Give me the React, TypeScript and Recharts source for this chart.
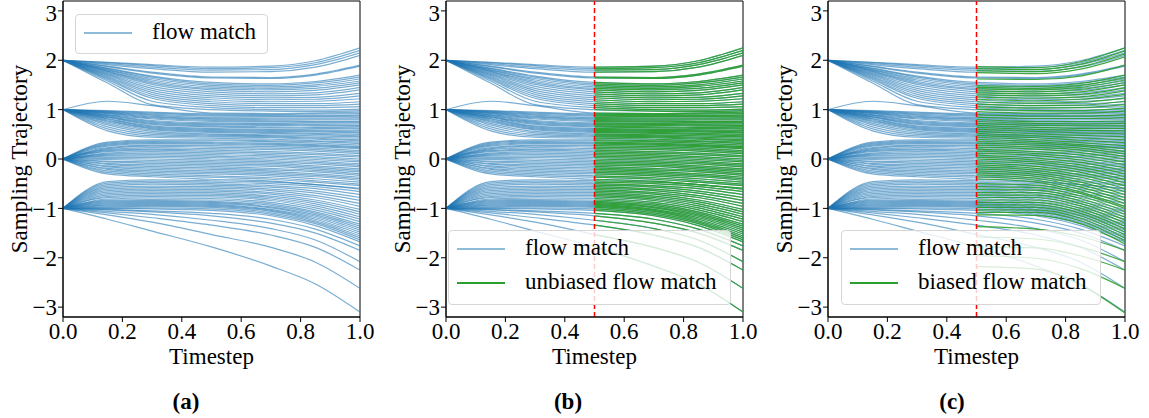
import React from 'react';
import { LineChart, Line, XAxis, YAxis, ReferenceLine, ReferenceArea, Legend } from 'recharts';

// timesteps where each trajectory is sampled; index 3 is t = 0.5 (the split)
const timesteps = [0, 0.15, 0.3, 0.5, 0.7, 0.85, 1.0];
const splitIndex = 3;

const xTicks = [0, 0.2, 0.4, 0.6, 0.8, 1.0];
const yTicks = [-3, -2, -1, 0, 1, 2, 3];

// flow match trajectories, one row per path, values at `timesteps`
const fromTwo = [
  [2, 1.96, 1.91, 1.86, 1.88, 1.99, 2.25],
  [2, 1.95, 1.89, 1.83, 1.85, 1.95, 2.2],
  [2, 1.93, 1.86, 1.8, 1.81, 1.91, 2.15],
  [2, 1.91, 1.83, 1.76, 1.77, 1.86, 2.1],
  [2, 1.88, 1.76, 1.66, 1.65, 1.72, 1.9],
  [2, 1.87, 1.74, 1.64, 1.63, 1.7, 1.88],
  [2, 1.84, 1.68, 1.55, 1.52, 1.57, 1.7],
  [2, 1.83, 1.66, 1.52, 1.49, 1.54, 1.66],
  [2, 1.81, 1.63, 1.49, 1.46, 1.5, 1.62],
  [2, 1.8, 1.6, 1.46, 1.43, 1.47, 1.58],
  [2, 1.78, 1.57, 1.43, 1.4, 1.43, 1.54],
  [2, 1.77, 1.54, 1.4, 1.36, 1.39, 1.5],
  [2, 1.75, 1.51, 1.36, 1.32, 1.34, 1.45],
  [2, 1.73, 1.47, 1.32, 1.28, 1.3, 1.4],
  [2, 1.71, 1.43, 1.28, 1.24, 1.25, 1.33],
  [2, 1.69, 1.39, 1.24, 1.2, 1.21, 1.28],
  [2, 1.67, 1.35, 1.2, 1.16, 1.17, 1.22],
  [2, 1.65, 1.31, 1.16, 1.12, 1.12, 1.16],
  [2, 1.63, 1.27, 1.12, 1.08, 1.08, 1.11],
  [2, 1.61, 1.23, 1.08, 1.04, 1.04, 1.06],
  [2, 1.58, 1.17, 1.04, 1.0, 0.99, 1.01],
  [2, 1.54, 1.1, 1.0, 0.97, 0.96, 0.98],
];

const fromOne = [
  [1, 1.17, 1.08, 0.93, 0.92, 0.93, 0.95],
  [1, 0.98, 0.95, 0.91, 0.9, 0.91, 0.92],
  [1, 0.97, 0.93, 0.89, 0.88, 0.88, 0.89],
  [1, 0.96, 0.91, 0.87, 0.86, 0.86, 0.87],
  [1, 0.95, 0.89, 0.84, 0.83, 0.83, 0.84],
  [1, 0.94, 0.87, 0.82, 0.81, 0.81, 0.81],
  [1, 0.93, 0.85, 0.8, 0.79, 0.79, 0.79],
  [1, 0.92, 0.83, 0.78, 0.77, 0.76, 0.76],
  [1, 0.9, 0.81, 0.76, 0.75, 0.74, 0.74],
  [1, 0.89, 0.78, 0.73, 0.72, 0.71, 0.71],
  [1, 0.88, 0.76, 0.71, 0.7, 0.69, 0.68],
  [1, 0.86, 0.74, 0.69, 0.68, 0.67, 0.66],
  [1, 0.85, 0.72, 0.67, 0.65, 0.64, 0.63],
  [1, 0.84, 0.7, 0.65, 0.63, 0.62, 0.61],
  [1, 0.82, 0.67, 0.62, 0.6, 0.59, 0.58],
  [1, 0.81, 0.65, 0.6, 0.58, 0.57, 0.55],
  [1, 0.79, 0.63, 0.58, 0.56, 0.55, 0.53],
  [1, 0.77, 0.61, 0.56, 0.54, 0.52, 0.5],
  [1, 0.75, 0.59, 0.54, 0.52, 0.5, 0.47],
  [1, 0.72, 0.56, 0.51, 0.49, 0.47, 0.45],
  [1, 0.69, 0.53, 0.49, 0.47, 0.44, 0.42],
  [1, 0.65, 0.5, 0.47, 0.45, 0.42, 0.39],
  [1, 0.61, 0.47, 0.45, 0.43, 0.4, 0.37],
  [1, 0.57, 0.44, 0.42, 0.4, 0.37, 0.34],
];

const fromZero = [
  [0, 0.34, 0.39, 0.39, 0.37, 0.35, 0.31],
  [0, 0.32, 0.37, 0.37, 0.35, 0.32, 0.28],
  [0, 0.3, 0.35, 0.34, 0.32, 0.29, 0.25],
  [0, 0.28, 0.33, 0.32, 0.3, 0.27, 0.23],
  [0, 0.26, 0.31, 0.3, 0.28, 0.25, 0.21],
  [0, 0.23, 0.28, 0.27, 0.25, 0.22, 0.17],
  [0, 0.21, 0.26, 0.24, 0.22, 0.19, 0.14],
  [0, 0.19, 0.23, 0.21, 0.19, 0.16, 0.11],
  [0, 0.17, 0.2, 0.18, 0.15, 0.12, 0.07],
  [0, 0.15, 0.18, 0.15, 0.12, 0.09, 0.04],
  [0, 0.12, 0.15, 0.12, 0.09, 0.05, 0.0],
  [0, 0.1, 0.12, 0.09, 0.06, 0.02, -0.03],
  [0, 0.08, 0.09, 0.06, 0.03, -0.01, -0.06],
  [0, 0.06, 0.06, 0.03, 0.0, -0.04, -0.1],
  [0, 0.03, 0.03, 0.0, -0.03, -0.07, -0.13],
  [0, 0.01, 0.0, -0.03, -0.06, -0.1, -0.16],
  [0, -0.01, -0.03, -0.06, -0.09, -0.14, -0.2],
  [0, -0.04, -0.06, -0.09, -0.12, -0.17, -0.23],
  [0, -0.06, -0.09, -0.12, -0.15, -0.2, -0.26],
  [0, -0.09, -0.12, -0.15, -0.19, -0.23, -0.3],
  [0, -0.11, -0.15, -0.18, -0.22, -0.26, -0.33],
  [0, -0.14, -0.18, -0.21, -0.25, -0.3, -0.37],
  [0, -0.16, -0.21, -0.24, -0.28, -0.33, -0.4],
  [0, -0.19, -0.24, -0.27, -0.31, -0.36, -0.43],
  [0, -0.21, -0.27, -0.3, -0.34, -0.4, -0.47],
  [0, -0.24, -0.3, -0.34, -0.38, -0.44, -0.51],
  [0, -0.27, -0.33, -0.37, -0.41, -0.47, -0.54],
  [0, -0.3, -0.36, -0.41, -0.45, -0.52, -0.59],
];

const fromMinusOne = [
  [-1, -0.46, -0.42, -0.44, -0.47, -0.52, -0.61],
  [-1, -0.49, -0.45, -0.47, -0.5, -0.56, -0.66],
  [-1, -0.52, -0.48, -0.5, -0.54, -0.6, -0.72],
  [-1, -0.55, -0.51, -0.53, -0.57, -0.65, -0.78],
  [-1, -0.58, -0.55, -0.56, -0.61, -0.69, -0.84],
  [-1, -0.61, -0.58, -0.59, -0.64, -0.74, -0.9],
  [-1, -0.64, -0.61, -0.62, -0.68, -0.78, -0.96],
  [-1, -0.67, -0.64, -0.65, -0.71, -0.83, -1.02],
  [-1, -0.7, -0.67, -0.68, -0.75, -0.87, -1.07],
  [-1, -0.73, -0.7, -0.71, -0.78, -0.91, -1.12],
  [-1, -0.76, -0.73, -0.74, -0.81, -0.95, -1.17],
  [-1, -0.78, -0.76, -0.77, -0.84, -0.99, -1.22],
  [-1, -0.81, -0.79, -0.8, -0.88, -1.03, -1.27],
  [-1, -0.83, -0.82, -0.83, -0.91, -1.07, -1.32],
  [-1, -0.85, -0.84, -0.86, -0.94, -1.1, -1.36],
  [-1, -0.87, -0.86, -0.88, -0.97, -1.13, -1.4],
  [-1, -0.89, -0.88, -0.9, -0.99, -1.16, -1.44],
  [-1, -0.91, -0.9, -0.92, -1.02, -1.19, -1.48],
  [-1, -0.93, -0.92, -0.94, -1.04, -1.22, -1.52],
  [-1, -0.95, -0.94, -0.96, -1.06, -1.25, -1.56],
  [-1, -0.97, -0.96, -0.98, -1.09, -1.28, -1.6],
  [-1, -0.99, -0.99, -1.01, -1.12, -1.31, -1.64],
  [-1, -1.0, -1.01, -1.04, -1.15, -1.35, -1.68],
  [-1, -1.02, -1.05, -1.1, -1.22, -1.42, -1.76],
  [-1, -1.03, -1.07, -1.15, -1.3, -1.5, -1.85],
  [-1, -1.06, -1.12, -1.24, -1.41, -1.64, -2.08],
  [-1, -1.09, -1.19, -1.34, -1.54, -1.79, -2.25],
  [-1, -1.13, -1.28, -1.53, -1.79, -2.09, -2.62],
  [-1, -1.22, -1.46, -1.78, -2.17, -2.53, -3.1],
];

// biased flow match (panel c), values at t = 0.5, 0.7, 0.85, 1.0
const biasedPaths = [
  [1.87, 1.85, 1.97, 2.25],
  [1.83, 1.81, 1.92, 2.19],
  [1.79, 1.77, 1.87, 2.13],
  [1.75, 1.73, 1.82, 2.07],
  [1.62, 1.61, 1.68, 1.9],
  [1.48, 1.47, 1.53, 1.7],
  [1.45, 1.43, 1.49, 1.65],
  [1.42, 1.4, 1.45, 1.6],
  [1.38, 1.36, 1.41, 1.55],
  [1.34, 1.32, 1.36, 1.5],
  [1.3, 1.28, 1.31, 1.44],
  [1.26, 1.23, 1.26, 1.38],
  [1.21, 1.18, 1.21, 1.31],
  [1.16, 1.13, 1.15, 1.24],
  [1.11, 1.08, 1.09, 1.17],
  [1.06, 1.03, 1.04, 1.1],
  [1.01, 0.98, 0.98, 1.03],
  [0.96, 0.93, 0.93, 0.97],
  [0.9, 0.87, 0.87, 0.9],
  [0.85, 0.82, 0.82, 0.84],
  [0.8, 0.76, 0.76, 0.77],
  [0.76, 0.72, 0.71, 0.72],
  [0.72, 0.68, 0.67, 0.67],
  [0.68, 0.64, 0.62, 0.62],
  [0.64, 0.6, 0.58, 0.57],
  [0.6, 0.56, 0.53, 0.51],
  [0.56, 0.51, 0.48, 0.45],
  [0.52, 0.47, 0.43, 0.39],
  [0.48, 0.43, 0.38, 0.33],
  [0.44, 0.39, 0.33, 0.27],
  [0.4, 0.35, 0.29, 0.21],
  [0.36, 0.32, 0.26, 0.15],
  [0.32, 0.28, 0.22, 0.1],
  [0.28, 0.24, 0.18, 0.05],
  [0.24, 0.2, 0.13, 0.0],
  [0.2, 0.15, 0.08, -0.06],
  [0.16, 0.11, 0.03, -0.12],
  [0.12, 0.07, -0.02, -0.18],
  [0.08, 0.02, -0.07, -0.24],
  [0.04, -0.02, -0.12, -0.3],
  [0.0, -0.06, -0.17, -0.36],
  [-0.04, -0.1, -0.22, -0.42],
  [-0.08, -0.15, -0.27, -0.48],
  [-0.12, -0.19, -0.32, -0.54],
  [-0.16, -0.23, -0.37, -0.6],
  [-0.2, -0.27, -0.42, -0.66],
  [-0.24, -0.31, -0.47, -0.72],
  [-0.28, -0.35, -0.52, -0.78],
  [-0.32, -0.39, -0.57, -0.84],
  [-0.36, -0.43, -0.62, -0.9],
  [-0.4, -0.47, -0.67, -0.96],
  [-0.5, -0.53, -0.7, -1.0],
  [-0.56, -0.58, -0.75, -1.06],
  [-0.62, -0.63, -0.8, -1.12],
  [-0.68, -0.68, -0.85, -1.18],
  [-0.73, -0.73, -0.9, -1.24],
  [-0.78, -0.78, -0.95, -1.3],
  [-0.83, -0.83, -1.0, -1.36],
  [-0.88, -0.88, -1.05, -1.42],
  [-0.93, -0.93, -1.1, -1.48],
  [-0.98, -0.98, -1.15, -1.54],
  [-1.03, -1.03, -1.2, -1.6],
  [-1.08, -1.08, -1.25, -1.66],
  [-1.13, -1.14, -1.31, -1.72],
  [-1.37, -1.42, -1.57, -1.85],
  [-1.58, -1.62, -1.78, -2.08],
  [-1.78, -1.8, -1.96, -2.25],
  [-1.96, -2.01, -2.22, -2.62],
  [-2.18, -2.23, -2.55, -3.12],
];

const flowPaths = [...fromTwo, ...fromOne, ...fromZero, ...fromMinusOne];

const data = timesteps.map((t, i) => {
  const row: Record<string, number | null> = { t };
  flowPaths.forEach((p, k) => {
    row[`f${k}`] = p[i];
    row[`u${k}`] = i >= splitIndex ? p[i] : null;
  });
  biasedPaths.forEach((p, k) => {
    row[`b${k}`] = i >= splitIndex ? p[i - splitIndex] : null;
  });
  return row;
});

const FONT = '"Liberation Serif", "Times New Roman", serif';
const BLUE = '#1f77b4';
const GREEN = '#2ca02c';
const FS = 23;

const fmtY = (v: number) => (v < 0 ? `\u2212${Math.abs(v)}` : `${v}`);

type LegendItem = { label: string; color: string; opacity: number };

const LegendBox = ({ items }: { items: LegendItem[] }) => (
  <div
    style={{
      position: 'relative',
      width: '100%',
      height: '100%',
      boxSizing: 'border-box',
      border: '1px solid #d6d6d6',
      borderRadius: 4,
      background: 'rgba(255,255,255,0.8)',
      fontFamily: FONT,
      fontSize: FS,
      color: '#000',
    }}
  >
    {items.map((it, i) => (
      <React.Fragment key={it.label}>
        <div
          style={{
            position: 'absolute',
            left: 8,
            top: 17 + i * 34,
            width: 48,
            height: 1.5,
            background: it.color,
            opacity: it.opacity,
          }}
        />
        <div
          style={{
            position: 'absolute',
            left: 76,
            top: 4 + i * 34,
            lineHeight: '26px',
            whiteSpace: 'nowrap',
          }}
        >
          {it.label}
        </div>
      </React.Fragment>
    ))}
  </div>
);

const pathLine = (key: string, color: string, opacity: number) => (
  <Line
    key={key}
    dataKey={key}
    type="monotone"
    stroke={color}
    strokeOpacity={opacity}
    strokeWidth={1.2}
    fill="none"
    dot={false}
    activeDot={false}
    legendType="none"
    isAnimationActive={false}
  />
);

type PanelProps = {
  left: number;
  green: 'none' | 'unbiased' | 'biased';
  legend: { left: number; top: number; width: number; height: number; items: LegendItem[] };
};

const Panel = ({ left, green, legend }: PanelProps) => (
  <div style={{ position: 'absolute', left, top: 0 }}>
    <LineChart width={382} height={370} data={data} margin={{ top: 1, right: 22, left: 0, bottom: 0 }}>
      <XAxis
        dataKey="t"
        type="number"
        domain={[0, 1]}
        ticks={xTicks}
        tickFormatter={(v: number) => v.toFixed(1)}
        height={53}
        tickSize={5}
        tickMargin={1}
        stroke="#000"
        tick={{ fill: '#000', fontSize: FS, fontFamily: FONT }}
        label={{ value: 'Timestep', position: 'insideBottom', offset: 6, fill: '#000', fontSize: FS, fontFamily: FONT }}
        allowDataOverflow
      />
      <YAxis
        type="number"
        domain={[-3.2, 3.2]}
        ticks={yTicks}
        tickFormatter={fmtY}
        width={63}
        tickSize={5}
        tickMargin={1}
        stroke="#000"
        tick={{ fill: '#000', fontSize: FS, fontFamily: FONT }}
        label={{
          value: 'Sampling Trajectory',
          angle: -90,
          position: 'insideLeft',
          offset: 19,
          fill: '#000',
          fontSize: FS,
          fontFamily: FONT,
          style: { textAnchor: 'middle' },
        }}
        allowDataOverflow
      />
      <ReferenceArea x1={0} x2={1} y1={-3.2} y2={3.2} fill="none" fillOpacity={0} stroke="#000" strokeWidth={1} />
      {flowPaths.map((_, k) => pathLine(`f${k}`, BLUE, 0.6))}
      {green === 'unbiased' && flowPaths.map((_, k) => pathLine(`u${k}`, GREEN, 0.9))}
      {green === 'biased' && biasedPaths.map((_, k) => pathLine(`b${k}`, GREEN, 0.9))}
      {green !== 'none' && (
        <ReferenceLine x={0.5} stroke="#ff0000" strokeWidth={1.5} strokeDasharray="5 3" />
      )}
      <Legend
        layout="horizontal"
        verticalAlign="middle"
        align="center"
        wrapperStyle={{ left: legend.left, top: legend.top, width: legend.width, height: legend.height }}
        content={() => <LegendBox items={legend.items} />}
      />
    </LineChart>
  </div>
);

const captionStyle = (cx: number): React.CSSProperties => ({
  position: 'absolute',
  left: cx - 50,
  top: 390,
  width: 100,
  textAlign: 'center',
  fontFamily: FONT,
  fontWeight: 'bold',
  fontSize: FS,
  lineHeight: '24px',
});

const blueItem = { label: 'flow match', color: BLUE, opacity: 0.5 };

export default function App() {
  return (
    <div style={{ position: 'absolute', left: 0, top: 0, width: 1149, height: 418, background: '#fff' }}>
      <Panel left={0} green="none" legend={{ left: 75, top: 14, width: 193, height: 40, items: [blueItem] }} />
      <Panel
        left={383}
        green="unbiased"
        legend={{
          left: 65,
          top: 230,
          width: 283,
          height: 75,
          items: [blueItem, { label: 'unbiased flow match', color: GREEN, opacity: 1 }],
        }}
      />
      <Panel
        left={765}
        green="biased"
        legend={{
          left: 76,
          top: 230,
          width: 260,
          height: 75,
          items: [blueItem, { label: 'biased flow match', color: GREEN, opacity: 1 }],
        }}
      />
      <div style={captionStyle(186)}>(a)</div>
      <div style={captionStyle(568)}>(b)</div>
      <div style={captionStyle(952)}>(c)</div>
    </div>
  );
}
